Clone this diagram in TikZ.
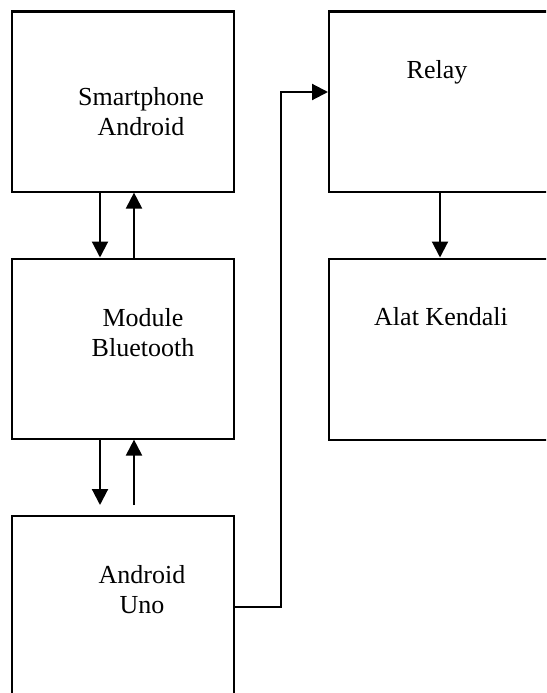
\documentclass[tikz,border=0pt]{standalone}
\usepackage{fontspec}
\setmainfont{Liberation Serif}
\usetikzlibrary{arrows.meta}
\begin{document}
\begin{tikzpicture}[x=1pt,y=-1pt,
  blk/.style={draw=black,line width=2.1pt,inner sep=0pt},
  lbl/.style={font=\fontsize{26}{30}\selectfont,align=center,inner sep=0pt},
  conn/.style={line width=2.1pt,-{Triangle[width=16pt,length=16pt]}},
  plain/.style={line width=2.1pt}]
\useasboundingbox (0,0) rectangle (546,693);
\clip (0,0) rectangle (546,693);
% boxes
\node[blk,minimum width=222pt,minimum height=180pt,anchor=north west] (sp) at (10.5,10.5) {};
\node[blk,minimum width=222pt,minimum height=180pt,anchor=north west] (bt) at (10.5,257.5) {};
\node[blk,minimum width=222pt,minimum height=200pt,anchor=north west] (uno) at (10.5,515) {};
\node[blk,minimum width=240pt,minimum height=180pt,anchor=north west] (rel) at (328,10.5) {};
\node[blk,minimum width=240pt,minimum height=181pt,anchor=north west] (ak) at (328,257.5) {};
% labels
\node[lbl] (tsp) at (141,112) {Smartphone\\Android};
\node[lbl] (tbt) at (143,333) {Module\\Bluetooth};
\node[lbl] (tuno) at (142,590) {Android\\Uno};
\node[lbl] (trel) at (437,72) {Relay};
\node[lbl] (tak) at (441,317) {Alat Kendali};
% connectors
\coordinate (d1s) at (sp.south west -| 100,0);
\coordinate (d1e) at (bt.north west -| 100,0);
\draw[conn] (d1s) -- (d1e);
\coordinate (u1s) at (bt.north west -| 134,0);
\coordinate (u1e) at (sp.south west -| 134,0);
\draw[conn] (u1s) -- (u1e);
\coordinate (d2s) at (bt.south west -| 100,0);
\coordinate (d2e) at (100,505);
\draw[conn] (d2s) -- (d2e);
\coordinate (u2s) at (134,505);
\coordinate (u2e) at (bt.south west -| 134,0);
\draw[conn] (u2s) -- (u2e);
\coordinate (bend1) at (281,607);
\coordinate (bend2) at (281,92);
\draw[conn] (uno.east |- bend1) -- (bend1) -- (bend2) -- (rel.west |- bend2);
\coordinate (rk) at (rel.south west -| 440,0);
\draw[conn] (rk) -- (ak.north west -| 440,0);
\end{tikzpicture}
\end{document}
